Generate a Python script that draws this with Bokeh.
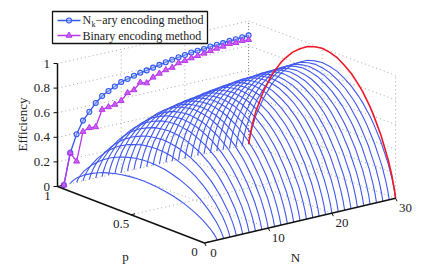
from bokeh.plotting import figure
from bokeh.embed import file_html
from bokeh.resources import INLINE
from bokeh.core.properties import value

# Values
N_values = list(range(1, 31))
nk_ary_eff = [0, .25, .39, .49, .55, .61, .655, .685, .71, .735, .747, .762, .775, .783, .794,
              .805, .815, .824, .832, .839, .848, .851, .854, .862, .865, .867, .874, .875, .88, .884]
binary_eff = [0, .25, .17, .40, .42, .415, .545, .555, .563, .583, .635, .647, .697, .68, .715,
              .735, .752, .76, .786, .792, .803, .81, .818, .827, .835, .84, .85, .847, .852, .848]
# Shape of the red N=30 curve, read at these p values; blue curves follow it, scaled by nk_ary_eff
p_values = [0, .01, .025, .05, .075, .1, .125, .15, .175, .2, .225, .25, .3, .35, .4, .45, .5,
            .55, .6, .65, .7, .75, .775, .8, .825, .85, .875, .9, .925, .95, .975, .99, 1]
red_curve = [0, .08, .17, .29, .38, .47, .54, .61, .67, .72, .77, .81, .88, .93, .97, .99, 1,
             .99, .97, .93, .88, .81, .77, .72, .67, .61, .54, .47, .38, .29, .17, .08, 0]
z_ticks = [0, .2, .4, .6, .8, 1]
z_labels = ["0", "0.2", "0.4", "0.6", "0.8", "1"]
N_ticks = [0, 10, 20, 30]
p_ticks = [0, .5, 1]

BLUE = "#4058f0"; MARK = "#3158f0"; PURPLE = "#b936ee"; RED = "#f01828"; GRID = "#a8a8a8"
SERIF = value("Liberation Serif")


def px(N, P):
    return 204 + 6.37 * N - 147 * P


def py(N, P, Z):
    return 242.5 - 1.49 * N - 56.5 * P + 2.3 * (N / 30) * P - 123 * Z


f = figure(width=428, height=265, x_range=(0, 428), y_range=(265, 0), output_backend="svg",
           toolbar_location=None, min_border=0, outline_line_color=None, background_fill_color="white")
f.axis.visible = False
f.grid.visible = False


def seg(a, b, **kw):
    f.line([px(a[0], a[1]), px(b[0], b[1])], [py(*a), py(*b)], **kw)


grid = dict(line_color=GRID, line_width=1, line_dash="1 3")
# floor, walls and box
for n in N_ticks[1:3]:
    seg((n, 0, 0), (n, 1, 0), **grid)
    seg((n, 1, 0), (n, 1, 1), **grid)
seg((30, .5, 0), (0, .5, 0), **grid)
seg((30, .5, 0), (30, .5, 1), **grid)
seg((30, 0, 0), (30, 0, 1), **grid)
seg((30, 1, 0), (30, 1, 1), line_color="#707070", line_width=1, line_dash="1 2")
for z in z_ticks[1:]:
    seg((0, 1, z), (30, 1, z), **grid)
    seg((30, 1, z), (30, 0, z), **grid)
seg((0, 1, 0), (30, 1, 0), **grid)
seg((30, 1, 0), (30, 0, 0), **grid)

# surface curves
for n, e in zip(N_values[1:], nk_ary_eff[1:]):
    f.line([px(n, q) for q in p_values],
           [py(n, q, e * h) for q, h in zip(p_values, red_curve)],
           line_color=BLUE, line_width=1.1)
f.line([px(30, q) for q in p_values], [py(30, q, h) for q, h in zip(p_values, red_curve)],
       line_color=RED, line_width=1.6)

# back-wall series
wx = [px(n, 1) for n in N_values]
yb = [py(n, 1, e) for n, e in zip(N_values, binary_eff)]
yn = [py(n, 1, e) for n, e in zip(N_values, nk_ary_eff)]
f.line(wx, yn, line_color=MARK, line_width=1.3)
f.scatter(wx, yn, marker="circle", size=5, line_color=MARK, fill_color="#a8b8f8", fill_alpha=0.5, line_width=1.1)
f.line(wx, yb, line_color=PURPLE, line_width=1.3)
f.scatter(wx, yb, marker="triangle", size=6, line_color=PURPLE, fill_color="#c860f0", line_width=1)

# axes
axis = dict(line_color="#111111", line_width=1.5)
seg((0, 1, 0), (0, 1, 1), **axis)
seg((0, 1, 0), (0, 0, 0), **axis)
seg((0, 0, 0), (30, 0, 0), **axis)
for z, lab in zip(z_ticks, z_labels):
    y = py(0, 1, z)
    f.line([53, px(0, 1)], [y, y], line_color="#111111", line_width=1)
    f.text([49.5], [y], text=[lab], text_align="right", text_baseline="middle", text_font=SERIF,
           text_font_size="13px", text_color="#222222")
for n in N_ticks:
    x, y = px(n, 0), py(n, 0, 0)
    f.line([x, x + 1.5], [y, y + 3], line_color="#111111", line_width=1)
    f.text([x + 10 + (0 if n else -1)], [y + 9.5], text=[str(n)], text_align="center", text_baseline="middle",
           text_font=SERIF, text_font_size="13px", text_color="#222222")
for q in p_ticks:
    x, y = px(0, q), py(0, q, 0)
    f.line([x, x + 4], [y, y - 1], line_color="#111111", line_width=1)
    f.text([x - 10], [y + 9], text=[str(q) if q == .5 else str(int(q))], text_align="center", text_baseline="middle",
           text_font=SERIF, text_font_size="13px", text_color="#222222")
f.text([125], [256], text=["p"], text_align="center", text_baseline="middle", text_font=SERIF,
       text_font_size="13px", text_color="#222222")
f.text([295], [257], text=["N"], text_align="center", text_baseline="middle", text_font=SERIF,
       text_font_size="13px", text_color="#222222")
f.text([22], [124], text=["Efficiency"], angle=1.5708, text_align="center", text_baseline="middle",
       text_font=SERIF, text_font_size="13px", text_color="#222222")

# legend
f.quad(left=[52], right=[207], top=[11], bottom=[43], fill_color="white", line_color="#111111", line_width=1.3)
f.line([57, 80], [20, 20], line_color=MARK, line_width=1.3)
f.scatter([68.5], [20], marker="circle", size=5, line_color=MARK, fill_color="#a8b8f8", fill_alpha=0.5, line_width=1.1)
f.line([57, 80], [35, 35], line_color=PURPLE, line_width=1.3)
f.scatter([68.5], [35], marker="triangle", size=6, line_color=PURPLE, fill_color="#c860f0", line_width=1)
leg = dict(text_baseline="middle", text_font=SERIF, text_color="#222222")
f.text([82], [19], text=["N"], text_font_size="12px", **leg)
f.text([91], [24], text=["k"], text_font_size="8px", **leg)
f.text([95], [19], text=["\u2212ary encoding method"], text_font_size="12px", **leg)
f.text([82], [35], text=["Binary encoding method"], text_font_size="12px", **leg)

open("out.html", "w").write(file_html(f, INLINE))
